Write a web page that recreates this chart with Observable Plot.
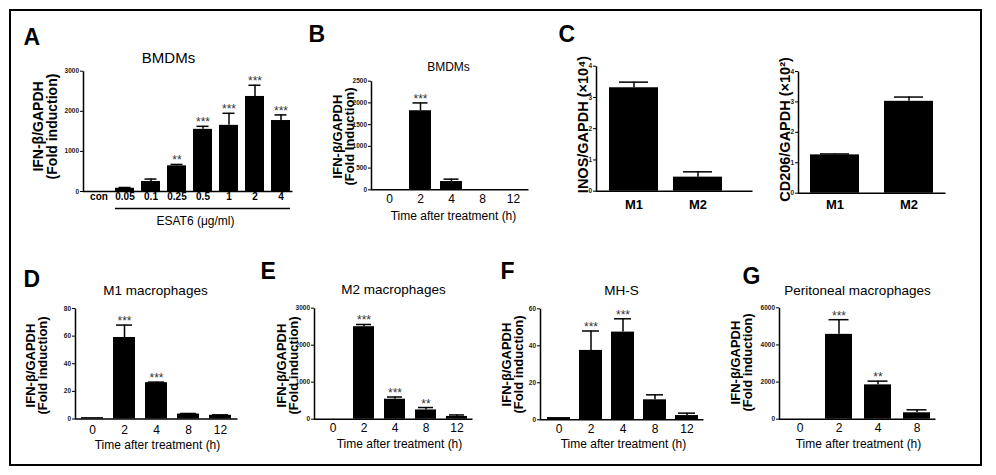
<!DOCTYPE html>
<html><head><meta charset="utf-8">
<script src="https://cdn.jsdelivr.net/npm/d3@7"></script>
<script src="https://cdn.jsdelivr.net/npm/@observablehq/plot@0.6"></script>
<style>
body{margin:0;background:#fff;}
#fig{position:relative;width:996px;height:475px;overflow:hidden;font-family:"Liberation Sans",Arial,sans-serif;}
#fig svg{position:absolute;}
#border{position:absolute;left:9px;top:9px;width:969px;height:453px;border:2px solid #000;}
</style></head><body><div id="fig"><div id="border"></div></div>
<script>
// ---------- data ----------
const aCats = ["con","0.05","0.1","0.25","0.5","1","2","4"];
const aVals = [0, 80, 250, 640, 1550, 1650, 2370, 1770];
const aErrs = [0, 20, 60, 35, 75, 300, 280, 140];
const aStars = ["","","","**","***","***","***","***"];
const aTicks = [0,1000,2000,3000];

const timeCats = ["0","2","4","8","12"];
const bVals = [0, 1820, 190, 0, 0];
const bErrs = [0, 180, 55, 0, 0];
const bStars = ["","***","","",""];
const bTicks = [0,500,1000,1500,2000,2500];

const cCats = ["M1","M2"];
const c1Vals = [3.31, 0.45];
const c1Errs = [0.18, 0.17];
const c2Vals = [1.26, 3.02];
const c2Errs = [0.03, 0.14];
const cTicks = [0,1,2,3,4];

const dVals = [1, 59, 26.3, 3.6, 2.7];
const dErrs = [0, 9, 0.4, 0.4, 0.3];
const dStars = ["","***","***","",""];
const dTicks = [0,20,40,60,80];

const eVals = [0, 2500, 540, 250, 75];
const eErrs = [0, 60, 60, 65, 40];
const eStars = ["","***","***","**",""];
const eTicks = [0,1000,2000,3000];

const fVals = [1.2, 37.5, 47.4, 10.8, 2.3];
const fErrs = [0, 10.5, 7.2, 2.7, 1.3];
const fStars = ["","***","***","",""];
const fTicks = [0,20,40,60];

const gCats = ["0","2","4","8"];
const gVals = [0, 4570, 1850, 345];
const gErrs = [0, 790, 200, 160];
const gStars = ["","***","**",""];
const gTicks = [0,2000,4000,6000];

const ifnLabel = "IFN-β/GAPDH\n(Fold induction)";
const ifnLabelB = "IFN-β/GAPDH\n(Fold Induction)";
const timeLabel = "Time after treatment (h)";

// ---------- panel builder ----------
const FONT = "'Liberation Sans', Arial, sans-serif";
function panel(p) {
  const data = p.cats.map((c, i) => ({cat: c, val: p.vals[i], err: p.errs[i], star: p.stars ? p.stars[i] : ""}));
  const ml = p.x0 - p.left, mr = p.left + p.width - p.x1;
  const mt = p.yTop - p.top, mb = p.top + p.height - p.yBot;
  const fw = p.x1 - p.x0, fh = p.yBot - p.yTop;
  const T = (t) => Plot.text([t.text], {
    text: d => d, frameAnchor: "top-left",
    dx: t.x - p.x0, dy: t.y - p.yTop,
    textAnchor: t.anchor || "middle", lineAnchor: t.line || "middle",
    fontSize: t.size, fontWeight: t.weight || "normal", rotate: t.rotate || 0,
    lineHeight: t.lh || 1, fill: "#000"
  });
  const withErr = data.filter(d => d.err > 0);
  const marks = [
    Plot.barY(data, {x: "cat", y: "val", fill: "#000"}),
    Plot.ruleX(withErr, {x: "cat", y1: "val", y2: d => d.val + d.err, stroke: "#000", strokeWidth: 1.5}),
    Plot.tickY(withErr, {x: "cat", y: d => d.val + d.err, stroke: "#000", strokeWidth: 1.5, inset: p.capInset}),
    Plot.text(data.filter(d => d.star), {x: "cat", y: d => d.val + d.err, text: "star", lineAnchor: "bottom", dy: 0, fontSize: 12, fill: "#333"}),
    Plot.frame({stroke: "#000", strokeWidth: 1.5, strokeDasharray: `0 ${fw + fh} ${fw + fh}`}),
    Plot.axisY({ticks: p.yTicks, tickFormat: d => String(d), tickSize: 3, tickPadding: 1.5, fontSize: 6.5, fontWeight: "bold", label: null, fill: "#222"}),
    Plot.axisX({tickSize: 0, tickPadding: p.xPad, fontSize: p.xFont, fontWeight: p.xWeight || "normal", label: null, fill: "#000"}),
    ...(p.extra || []),
    ...p.texts.map(T)
  ];
  const svg = Plot.plot({
    width: p.width, height: p.height,
    marginLeft: ml, marginRight: mr, marginTop: mt, marginBottom: mb,
    style: {fontFamily: FONT, background: "transparent", overflow: "visible", position: "absolute", left: p.left + "px", top: p.top + "px"},
    x: {type: "band", domain: p.cats, range: [p.r0 - p.left, p.r1 - p.left], paddingInner: p.pi, paddingOuter: p.po, align: 0.5},
    y: {domain: [0, p.yTicks[p.yTicks.length - 1]]},
    marks
  });
  document.getElementById("fig").appendChild(svg);
}

const LET = 23;
// Panel A
panel({
  left: 12, top: 12, width: 290, height: 218,
  x0: 83, x1: 292, yTop: 70.7, yBot: 191,
  r0: 83, r1: 295, pi: 0.28, po: 0.16, capInset: 3.5,
  cats: aCats, vals: aVals, errs: aErrs, stars: aStars, yTicks: aTicks,
  xPad: 1.5, xFont: 10, xWeight: "bold",
  extra: [Plot.ruleY([{y: 0, from: aCats[1], to: aCats[aCats.length - 1]}], {y: "y", x1: "from", x2: "to", dy: 17, stroke: "#000", strokeWidth: 1.5})],
  texts: [
    {text: "A", x: 23, y: 28, size: LET, weight: "bold", anchor: "start", line: "top"},
    {text: "BMDMs", x: 168, y: 57.5, size: 15},
    {text: ifnLabel, x: 45, y: 126, size: 14, weight: "bold", rotate: -90, lh: 1},
    {text: "ESAT6 (μg/ml)", x: 195, y: 221, size: 12}
  ]
});
// Panel B
panel({
  left: 302, top: 12, width: 240, height: 218,
  x0: 371, x1: 528, yTop: 80.7, yBot: 189.3,
  r0: 371, r1: 530, pi: 0.3, po: 0.19, capInset: 3.5,
  cats: timeCats, vals: bVals, errs: bErrs, stars: bStars, yTicks: bTicks,
  xPad: 4.5, xFont: 12,
  texts: [
    {text: "B", x: 308, y: 25, size: LET, weight: "bold", anchor: "start", line: "top"},
    {text: "BMDMs", x: 448, y: 67, size: 12},
    {text: ifnLabelB, x: 344, y: 136, size: 13, weight: "bold", rotate: -90, lh: 0.92},
    {text: timeLabel, x: 453, y: 216, size: 12}
  ]
});
// Panel C (left)
panel({
  left: 542, top: 12, width: 215, height: 218,
  x0: 596, x1: 752, yTop: 65.7, yBot: 190.7,
  r0: 596, r1: 735, pi: 0.23, po: 0.185, capInset: 10,
  cats: cCats, vals: c1Vals, errs: c1Errs, yTicks: cTicks,
  xPad: 8.5, xFont: 13, xWeight: "bold",
  texts: [
    {text: "C", x: 558, y: 25, size: LET, weight: "bold", anchor: "start", line: "top"},
    {text: "INOS/GAPDH (×10⁴)", x: 583, y: 124, size: 14.5, weight: "bold", rotate: -90}
  ]
});
// Panel C (right)
panel({
  left: 757, top: 12, width: 222, height: 218,
  x0: 798, x1: 945, yTop: 71, yBot: 192.7,
  r0: 798, r1: 945, pi: 0.333, po: 0.147, capInset: 10,
  cats: cCats, vals: c2Vals, errs: c2Errs, yTicks: cTicks,
  xPad: 6.5, xFont: 13, xWeight: "bold",
  texts: [
    {text: "CD206/GAPDH (×10²)", x: 785, y: 129, size: 14.5, weight: "bold", rotate: -90}
  ]
});
// Panel D
panel({
  left: 12, top: 230, width: 240, height: 233,
  x0: 75, x1: 237, yTop: 308, yBot: 418.5,
  r0: 75, r1: 236, pi: 0.323, po: 0.138, capInset: 3,
  cats: timeCats, vals: dVals, errs: dErrs, stars: dStars, yTicks: dTicks,
  xPad: 6.5, xFont: 12,
  texts: [
    {text: "D", x: 23, y: 270, size: LET, weight: "bold", anchor: "start", line: "top"},
    {text: "M1 macrophages", x: 155, y: 290, size: 13.5},
    {text: ifnLabel, x: 37, y: 365, size: 13, weight: "bold", rotate: -90, lh: 0.92},
    {text: timeLabel, x: 157, y: 444.5, size: 12}
  ]
});
// Panel E
panel({
  left: 252, top: 230, width: 238, height: 233,
  x0: 314, x1: 472, yTop: 307.7, yBot: 418.7,
  r0: 314, r1: 474.4, pi: 0.32, po: 0.198, capInset: 3,
  cats: timeCats, vals: eVals, errs: eErrs, stars: eStars, yTicks: eTicks,
  xPad: 4.5, xFont: 12,
  texts: [
    {text: "E", x: 260, y: 262, size: LET, weight: "bold", anchor: "start", line: "top"},
    {text: "M2 macrophages", x: 393, y: 289, size: 13.5},
    {text: ifnLabel, x: 287.5, y: 365, size: 13, weight: "bold", rotate: -90, lh: 0.92},
    {text: timeLabel, x: 399, y: 443.5, size: 12}
  ]
});
// Panel F
panel({
  left: 490, top: 230, width: 238, height: 233,
  x0: 540, x1: 703, yTop: 308.3, yBot: 419.3,
  r0: 540, r1: 704.4, pi: 0.295, po: 0.169, capInset: 3,
  cats: timeCats, vals: fVals, errs: fErrs, stars: fStars, yTicks: fTicks,
  xPad: 5, xFont: 12,
  texts: [
    {text: "F", x: 500, y: 262, size: LET, weight: "bold", anchor: "start", line: "top"},
    {text: "MH-S", x: 621, y: 290, size: 13.5},
    {text: ifnLabel, x: 512.5, y: 364, size: 13, weight: "bold", rotate: -90, lh: 0.92},
    {text: timeLabel, x: 623, y: 443.5, size: 12}
  ]
});
// Panel G
panel({
  left: 728, top: 230, width: 250, height: 233,
  x0: 779, x1: 935, yTop: 307.3, yBot: 418.7,
  r0: 779, r1: 936.7, pi: 0.31, po: 0.166, capInset: 3.5,
  cats: gCats, vals: gVals, errs: gErrs, stars: gStars, yTicks: gTicks,
  xPad: 4, xFont: 12,
  texts: [
    {text: "G", x: 742, y: 267, size: LET, weight: "bold", anchor: "start", line: "top"},
    {text: "Peritoneal macrophages", x: 857, y: 290, size: 13.5},
    {text: ifnLabel, x: 741.5, y: 362, size: 13, weight: "bold", rotate: -90, lh: 0.92},
    {text: timeLabel, x: 858, y: 443.5, size: 12}
  ]
});
</script></body></html>
